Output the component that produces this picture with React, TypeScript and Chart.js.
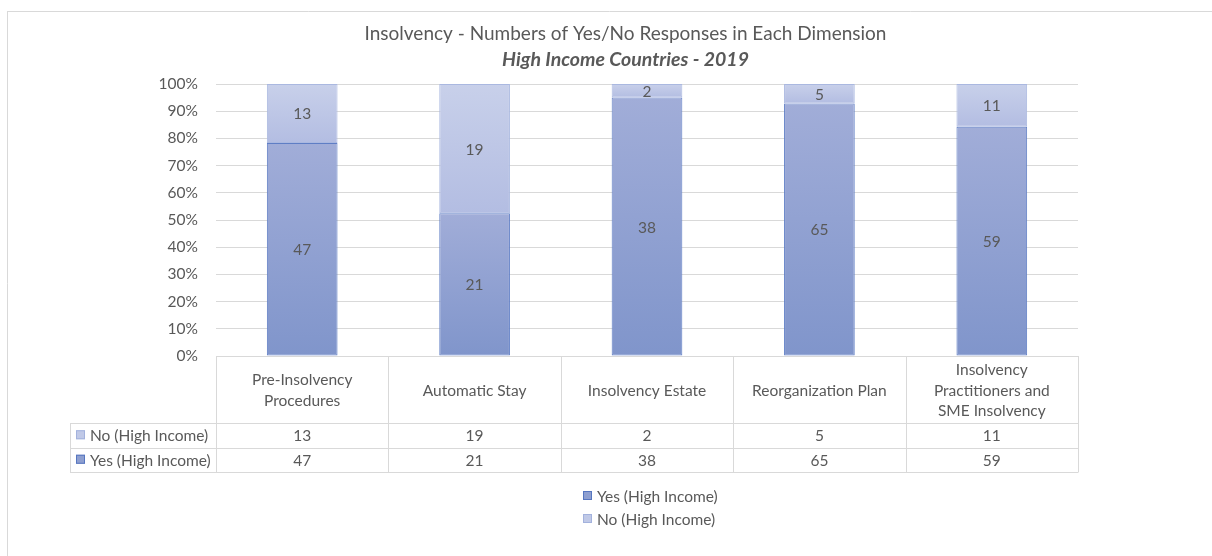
import React, { useEffect, useRef } from "react";
import { Chart, registerables } from "chart.js";

Chart.register(...registerables);

// Dimension names (split into the lines shown in the table header)
const categories: string[][] = [
  ["Pre-Insolvency", "Procedures"],
  ["Automatic Stay"],
  ["Insolvency Estate"],
  ["Reorganization Plan"],
  ["Insolvency", "Practitioners and", "SME Insolvency"],
];

// Response counts per dimension
const yesCounts = [47, 21, 38, 65, 59];
const noCounts = [13, 19, 2, 5, 11];

const yesLabel = "Yes (High Income)";
const noLabel = "No (High Income)";

const titleText = "Insolvency - Numbers of Yes/No Responses in Each Dimension";
const subtitleText = "High Income Countries - 2019";

const FONT = "Lato";
const TEXT = "#595959";
const LINE = "#d9d9d9";
const BODY_SIZE = 15.5;

// 100% stacked shares derived from the counts
const totals = yesCounts.map((y, i) => y + noCounts[i]);
const yesShare = yesCounts.map((y, i) => (y / totals[i]) * 100);
const noShare = noCounts.map((n, i) => (n / totals[i]) * 100);

type Stop = [string, string];
const yesFill: Stop = ["#a1add8", "#8095cb"];
const noFill: Stop = ["#c8d0ea", "#b3bde2"];

function segmentGradient(chart: any, dataIndex: number, isYes: boolean, stops: Stop) {
  const yScale = chart.scales?.y;
  const area = chart.chartArea;
  if (!yScale || !area) return stops[1];
  const from = isYes ? 0 : yesShare[dataIndex];
  const to = isYes ? yesShare[dataIndex] : 100;
  const top = yScale.getPixelForValue(to);
  const bottom = yScale.getPixelForValue(from);
  const g = chart.ctx.createLinearGradient(0, top, 0, bottom);
  g.addColorStop(0, stops[0]);
  g.addColorStop(1, stops[1]);
  return g;
}

// Frame, titles, value labels inside segments, data table under the plot and legend
const decorations = {
  id: "decorations",
  beforeDraw(chart: any) {
    const { ctx, width, height } = chart;
    ctx.save();
    ctx.fillStyle = "#ffffff";
    ctx.fillRect(0, 0, width, height);
    ctx.strokeStyle = LINE;
    ctx.lineWidth = 1;
    ctx.beginPath();
    ctx.moveTo(7, 11.5);
    ctx.lineTo(width, 11.5);
    ctx.moveTo(7.5, 11);
    ctx.lineTo(7.5, height);
    ctx.stroke();

    const titleX = 625.5;
    ctx.fillStyle = TEXT;
    ctx.textAlign = "center";
    ctx.textBaseline = "middle";
    ctx.font = `19px ${FONT}`;
    ctx.fillText(titleText, titleX, 34);
    ctx.font = `italic bold 19.5px ${FONT}`;
    ctx.fillText(subtitleText, titleX, 60);
    ctx.restore();
  },
  afterDatasetsDraw(chart: any) {
    const { ctx } = chart;
    ctx.save();
    ctx.font = `${BODY_SIZE}px ${FONT}`;
    ctx.fillStyle = TEXT;
    ctx.textAlign = "center";
    ctx.textBaseline = "middle";
    const counts = [yesCounts, noCounts];
    chart.data.datasets.forEach((_: any, di: number) => {
      const meta = chart.getDatasetMeta(di);
      meta.data.forEach((el: any, i: number) => {
        const mid = (el.y + el.base) / 2;
        ctx.fillText(String(counts[di][i]), el.x, mid + 1);
      });
    });
    ctx.restore();
  },
  afterDraw(chart: any) {
    const { ctx, chartArea } = chart;
    const xScale = chart.scales.x;
    const n = categories.length;
    const left = chartArea.left;
    const right = chartArea.right;
    const step = (right - left) / n;
    const top = chartArea.bottom;
    const headerH = 67;
    const rowH = 24.5;
    const headerBottom = top + headerH;
    const row1Bottom = headerBottom + rowH;
    const row2Bottom = row1Bottom + rowH;
    const keyLeft = 70;
    const px = (v: number) => Math.round(v) + 0.5;

    ctx.save();
    ctx.strokeStyle = LINE;
    ctx.lineWidth = 1;
    ctx.beginPath();
    // horizontal rules
    [headerBottom, row1Bottom, row2Bottom].forEach((y) => {
      ctx.moveTo(keyLeft, px(y));
      ctx.lineTo(right, px(y));
    });
    // vertical rules at category boundaries
    for (let i = 0; i <= n; i++) {
      const x = px(left + i * step);
      ctx.moveTo(x, top);
      ctx.lineTo(x, px(row2Bottom));
    }
    ctx.moveTo(px(keyLeft), px(headerBottom));
    ctx.lineTo(px(keyLeft), px(row2Bottom));
    ctx.stroke();

    ctx.font = `${BODY_SIZE}px ${FONT}`;
    ctx.fillStyle = TEXT;
    ctx.textAlign = "center";
    ctx.textBaseline = "middle";
    const headerMid = (top + headerBottom) / 2;
    const lh = 20.5;
    categories.forEach((lines, i) => {
      const cx = xScale.getPixelForValue(i);
      const start = headerMid - ((lines.length - 1) * lh) / 2;
      lines.forEach((line, li) => ctx.fillText(line, cx, start + li * lh + 1));
      ctx.fillText(String(noCounts[i]), cx, (headerBottom + row1Bottom) / 2 + 1);
      ctx.fillText(String(yesCounts[i]), cx, (row1Bottom + row2Bottom) / 2 + 1);
    });

    const drawKey = (x: number, y: number, fill: string, stroke: string, label: string) => {
      ctx.fillStyle = fill;
      ctx.fillRect(x, y - 5, 9, 9);
      ctx.strokeStyle = stroke;
      ctx.strokeRect(x + 0.5, y - 4.5, 8, 8);
      ctx.fillStyle = TEXT;
      ctx.textAlign = "left";
      ctx.fillText(label, x + 14, y + 1);
    };
    // row keys in the table
    drawKey(keyLeft + 6, (headerBottom + row1Bottom) / 2, "#c0c9e7", "#a3b2dd", noLabel);
    drawKey(keyLeft + 6, (row1Bottom + row2Bottom) / 2, "#8e9fd0", "#5676c0", yesLabel);

    // legend under the table
    const legendX = (left + right) / 2 - 64;
    drawKey(legendX, row2Bottom + 24, "#8e9fd0", "#5676c0", yesLabel);
    drawKey(legendX, row2Bottom + 47, "#c0c9e7", "#a3b2dd", noLabel);
    ctx.restore();
  },
};

export default function App() {
  const canvasRef = useRef<HTMLCanvasElement | null>(null);

  useEffect(() => {
    if (!canvasRef.current) return;
    Chart.defaults.font.family = FONT;
    Chart.defaults.color = TEXT;
    const chart = new Chart(canvasRef.current, {
      type: "bar",
      data: {
        labels: categories.map((c) => c.join(" ")),
        datasets: [
          {
            label: yesLabel,
            data: yesShare,
            backgroundColor: (c: any) => segmentGradient(c.chart, c.dataIndex, true, yesFill),
            borderColor: "#5f7ec5",
            borderWidth: 1,
            borderSkipped: false,
          },
          {
            label: noLabel,
            data: noShare,
            backgroundColor: (c: any) => segmentGradient(c.chart, c.dataIndex, false, noFill),
            borderColor: "#aab8e0",
            borderWidth: 1,
            borderSkipped: false,
          },
        ],
      },
      options: {
        responsive: false,
        animation: false,
        devicePixelRatio: 1,
        layout: { padding: { top: 84, left: 0, right: 134, bottom: 200 } },
        datasets: {
          bar: { categoryPercentage: 1, barPercentage: 0.41 },
        },
        scales: {
          x: { stacked: true, display: false },
          y: {
            stacked: true,
            min: 0,
            max: 100,
            ticks: {
              stepSize: 10,
              padding: 18,
              color: TEXT,
              font: { size: BODY_SIZE, family: FONT },
              callback: (v: any) => `${v}%`,
            },
            grid: { color: LINE, lineWidth: 1, drawTicks: false },
            border: { display: false },
            afterFit: (scale: any) => {
              scale.width = 216;
            },
          },
        },
        plugins: {
          legend: { display: false },
          tooltip: { enabled: false },
          title: { display: false },
        },
      },
      plugins: [decorations],
    });
    return () => chart.destroy();
  }, []);

  return (
    <div style={{ position: "absolute", left: 0, top: 0, width: 1212, height: 556 }}>
      <canvas ref={canvasRef} width={1212} height={556} />
    </div>
  );
}
